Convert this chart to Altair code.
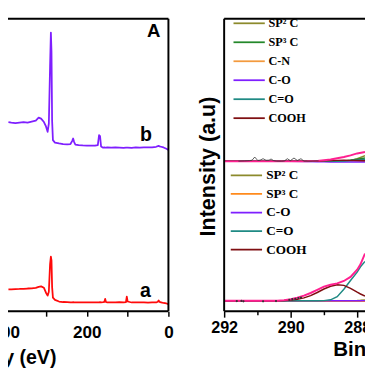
import altair as alt
import pandas as pd

# ---------------- Panel A : survey spectra (a.u. values) ----
survey_ev = [392, 385, 375, 365, 355, 345, 335, 325, 318, 312,
             305, 300, 296, 293, 290, 288, 286.5, 285, 283, 278,
             268, 258, 248, 240, 236, 233.5, 231, 228, 220, 210,
             200, 190, 180, 173, 170, 167.5, 165, 160, 157, 155,
             153, 150, 140, 130, 120, 110, 104, 102, 100, 90,
             80, 70, 60, 50, 40, 30, 26, 24, 22, 18,
             12, 5, 0]
survey_b = [193.5, 193, 192.5, 193, 193.5, 193, 194, 195, 198, 197,
            193.5, 189, 183.5, 192, 250, 285, 265, 195, 175, 172.5,
            171.7, 171, 170.7, 171, 174, 176.7, 173, 170.5, 170, 169.7,
            169.5, 169.5, 169.3, 170, 180, 179, 168.5, 167.3, 167.5, 167.4,
            167.3, 167.5, 167.3, 167.5, 167.4, 167.2, 167.4, 167.3, 167.4, 167.2,
            167.5, 167.3, 167.5, 167.7, 167.7, 168.2, 168.8, 169.2, 168.7, 168.2,
            167.5, 166.2, 165]
survey_a = [22.5, 22.5, 22.7, 22.8, 23, 23.3, 23.5, 24, 25, 25.5,
            24, 19, 16, 20, 48, 56, 52, 25, 14, 11.7,
            10, 9.5, 9.3, 9.2, 9.2, 9.3, 9.2, 9.2, 9.2, 9,
            9.2, 9, 9.2, 9.2, 9.2, 9.3, 9.2, 9.3, 9.5, 12.7,
            9.5, 9.2, 9.2, 9.2, 9.3, 9.2, 9.5, 15, 10, 9,
            9, 9, 9, 8.8, 9, 9, 9.7, 11, 9.7, 9.2,
            8.5, 8, 7.3]
label_text = ["a", "b", "A"]
label_ev = [56.3, 55.1, 35.9]
label_v = [15, 174, 280]
label_size = [20, 20, 19]

# ---------------- Panel B : C1s spectra ----
up_ev = [292, 291, 290, 289.5, 289.2, 289.0, 288.8, 288.6, 288.4, 288.2, 288.0, 287.765]
up_names = ["SP\u00b2 C", "SP\u00b3 C", "C-N", "C-O", "C=O", "COOH"]
up_colors = ["#8c8a2c", "#24882a", "#f39a3e", "#7f1fff", "#1f8a84", "#7f0f12"]
up_sp2 = [153.3, 153.3, 153.3, 153.3, 153.3, 153.3, 153.3, 153.3, 153.5, 154.3, 156.0, 159.0]
up_sp3 = [153.3, 153.3, 153.3, 153.3, 153.3, 153.3, 153.3, 153.4, 153.8, 154.5, 155.5, 156.7]
up_cn = [153.3, 153.3, 153.3, 153.3, 153.3, 153.3, 153.4, 153.5, 153.6, 153.7, 153.8, 153.9]
up_co = [153.3, 153.3, 153.3, 153.1, 152.9, 152.8, 152.7, 152.7, 152.6, 152.6, 152.6, 152.6]
up_cdo = [153.3, 153.3, 153.3, 153.3, 153.3, 153.3, 153.3, 153.4, 153.7, 154.1, 154.6, 155.2]
up_cooh = [153.3, 153.3, 153.3, 153.3, 153.5, 153.8, 154.1, 154.3, 154.4, 154.3, 154.1, 153.9]
up_fit = [153.3, 153.3, 153.3, 153.4, 153.8, 154.5, 155.2, 156.4, 157.7, 159.4, 161.4, 162.8]
up_raw_ev = [291.57, 291.39, 291.24, 291.16, 291.08, 290.99, 290.92, 290.83, 290.74, 290.65,
             290.59, 290.51, 290.42, 290.27, 290.19, 290.10, 290.01, 289.90, 289.80, 289.69,
             289.60, 289.39, 289.16]
up_raw_v = [153.5, 153.7, 154.0, 154.5, 157.7, 154.2, 154.5, 156.0, 154.4, 154.5,
            155.7, 154.0, 153.5, 153.4, 153.7, 156.0, 154.0, 156.7, 154.2, 156.0,
            153.5, 153.4, 153.8]

lo_ev = [292, 291, 290.4, 290.2, 290.0, 289.8, 289.6, 289.4, 289.2, 289.0,
         288.8, 288.6, 288.4, 288.2, 288.0, 287.9, 287.765]
lo_names = ["SP\u00b2 C", "SP\u00b3 C", "C-O", "C=O", "COOH"]
lo_colors = ["#8c8a2c", "#ff8a1c", "#7f1fff", "#1f8a84", "#7f0f12"]
lo_sp2 = [10.7, 10.7, 10.7, 10.7, 10.7, 10.7, 10.7, 10.7, 10.7, 10.7, 10.7, 10.7, 10.7, 10.8, 11.0, 11.2, 11.6]
lo_sp3 = [10.7, 10.7, 10.4, 10.2, 10.2, 10.2, 10.2, 10.2, 10.2, 10.2, 10.2, 10.2, 10.2, 10.2, 10.2, 10.2, 10.2]
lo_co = [10.7, 10.7, 10.7, 10.7, 10.7, 10.7, 10.7, 10.7, 10.7, 10.7, 10.7, 10.7, 10.7, 10.7, 10.8, 10.8, 10.9]
lo_cdo = [10.7, 10.7, 10.7, 10.7, 10.7, 10.7, 10.7, 10.7, 10.7, 10.9, 11.7, 15.0, 22.5, 31.5, 40.0, 45.5, 51.0]
lo_cooh = [10.7, 10.7, 10.8, 11.0, 11.4, 12.2, 13.7, 16.0, 19.2, 22.8, 25.6, 27.2, 26.5, 23.5, 19.5, 17.7, 15.5]
lo_fit = [10.7, 10.7, 10.8, 11.4, 12.4, 13.8, 16.0, 18.7, 22.0, 25.2, 27.2, 28.5, 31.0, 35.2, 42.5, 48.0, 59.0]
lo_raw_ev = [291.62, 291.48, 291.42, 290.83, 290.44, 290.04, 289.95, 289.86, 289.77, 289.69]
lo_raw_v = [10.4, 10.6, 10.2, 10.2, 10.4, 11.7, 12.4, 12.7, 13.5, 14.0]

PINK = "#ff2090"
RED = "#ff0a0a"
VIOLET = "#7f1fff"
SANS = "Liberation Sans"
SERIF = "Liberation Serif"
H = 301          # plot height (intensity axis top, a.u.)
W = 401          # one shared plot strip holding both panels
TOP = 299        # level of the panels' upper frame edge

# frames: panel A ends at 0 eV (its left side is outside the crop), panel B starts at 292 eV
a_frame_ev = [441, 0, 441]
a_frame_ev2 = [0, 0, 0]
a_frame_v = [TOP, 0, 0]
a_frame_v2 = [TOP, TOP, 0]
b_frame_ev = [292, 292, 292]
b_frame_ev2 = [287.294, 292, 287.294]
b_frame_v = [TOP, 0, 0]
b_frame_v2 = [TOP, TOP, 0]

# ---------------- tables ----------------
a_df = pd.DataFrame({"ev": survey_ev, "v": survey_a})
b_df = pd.DataFrame({"ev": survey_ev, "v": survey_b})
label_df = pd.DataFrame({"ev": label_ev, "v": label_v, "t": label_text, "fs": label_size})
a_frame_df = pd.DataFrame({"ev": a_frame_ev, "ev2": a_frame_ev2, "v": a_frame_v, "v2": a_frame_v2})
b_frame_df = pd.DataFrame({"ev": b_frame_ev, "ev2": b_frame_ev2, "v": b_frame_v, "v2": b_frame_v2})
up_comp_df = pd.concat([pd.DataFrame({"ev": up_ev, "v": vals, "comp": n})
                        for n, vals in zip(up_names, [up_sp2, up_sp3, up_cn, up_co, up_cdo, up_cooh])])
lo_comp_df = pd.concat([pd.DataFrame({"ev": lo_ev, "v": vals, "comp": n})
                        for n, vals in zip(lo_names, [lo_sp2, lo_sp3, lo_co, lo_cdo, lo_cooh])])
up_fit_df = pd.DataFrame({"ev": up_ev, "v": up_fit})
lo_fit_df = pd.DataFrame({"ev": lo_ev, "v": lo_fit})
up_raw_df = pd.DataFrame({"ev": up_raw_ev, "v": up_raw_v})
lo_raw_df = pd.DataFrame({"ev": lo_raw_ev, "v": lo_raw_v})

# two energy scales laid over one strip: panel A (0..441 eV) and panel B (287.3..292 eV)
xl = alt.Scale(domain=[-520, 441], reverse=True, nice=False, zero=False)
xr = alt.Scale(domain=[287.294, 299.088], reverse=True, nice=False, zero=False)
ys = alt.Scale(domain=[0, H], nice=False, zero=False)
Y = alt.Y("v:Q", scale=ys, axis=None)

# ---- panel A layers
left_a = alt.Chart(a_df).mark_line(strokeWidth=1.8, color=RED, strokeJoin="round").encode(
    x=alt.X("ev:Q", scale=xl, axis=alt.Axis(
        orient="bottom", values=[400, 300, 200, 100, 0],
        labelExpr="datum.value % 200 === 0 ? datum.label : ''",
        tickSize=5, labelFontSize=17.5, labelPadding=22, labelBaseline="alphabetic",
        labelFlush=False, title="Binding Energy (eV)", titleFontSize=20,
        titleX=69, titleY=53, titleAlign="right", titleBaseline="alphabetic")),
    y=Y,
)
left_b = alt.Chart(b_df).mark_line(strokeWidth=1.8, color=VIOLET, strokeJoin="round").encode(
    x=alt.X("ev:Q", scale=xl, axis=None), y=Y)
left_text = alt.Chart(label_df).mark_text(font=SANS, fontWeight="bold", baseline="alphabetic",
                                          align="center", color="black").encode(
    x=alt.X("ev:Q", scale=xl, axis=None), y=Y, text="t:N", size=alt.Size("fs:Q", scale=None))
left_frame = alt.Chart(a_frame_df).mark_rule(color="black", strokeWidth=2).encode(
    x=alt.X("ev:Q", scale=xl, axis=None), x2="ev2:Q", y=Y, y2="v2:Q")

# ---- panel B layers
def legend(x, y, fs, rp):
    return alt.Legend(orient="none", legendX=x, legendY=y, title=None, symbolType="M-7,0H1",
                      symbolSize=64, symbolStrokeWidth=1.8, labelFont=SERIF, labelFontWeight="bold",
                      labelFontSize=fs, labelColor="black", labelOffset=1.5, rowPadding=rp,
                      padding=0, direction="vertical")

r_up = alt.Chart(up_comp_df).mark_line(strokeWidth=1.5, clip=True).encode(
    x=alt.X("ev:Q", scale=xr, axis=alt.Axis(
        orient="bottom", values=[292, 290, 288], tickSize=6, labelFontSize=16.5, labelPadding=15.7,
        labelBaseline="alphabetic", labelFlush=False, title="Binding Energy (eV)",
        titleFontSize=21, titleX=352, titleY=45, titleAlign="left", titleBaseline="alphabetic")),
    y=alt.Y("v:Q", scale=ys, axis=alt.Axis(
        orient="left", ticks=False, labels=False, title="Intensity (a.u)", titleFontSize=22,
        titleX=231, titleY=152.5, titleAngle=270, titleAlign="center", titleBaseline="alphabetic")),
    color=alt.Color("comp:N", scale=alt.Scale(domain=up_names, range=up_colors),
                    legend=legend(272.3, 0.3, 12.5, 6.4)),
)
r_lo = alt.Chart(lo_comp_df).mark_line(strokeWidth=1.5, clip=True).encode(
    x=alt.X("ev:Q", scale=xr, axis=alt.Axis(orient="bottom", values=[291, 289], tickSize=3.5,
                                            labels=False, title=None)),
    y=Y,
    color=alt.Color("comp:N", scale=alt.Scale(domain=lo_names, range=lo_colors),
                    legend=legend(269, 155.3, 13.5, 4)),
)
r_upfit = alt.Chart(up_fit_df).mark_line(strokeWidth=2, color=PINK, clip=True).encode(
    x=alt.X("ev:Q", scale=xr, axis=None), y=Y)
r_lofit = alt.Chart(lo_fit_df).mark_line(strokeWidth=2, color=PINK, clip=True).encode(
    x=alt.X("ev:Q", scale=xr, axis=None), y=Y)
r_upraw = alt.Chart(up_raw_df).mark_line(strokeWidth=0.8, color="#333333", clip=True).encode(
    x=alt.X("ev:Q", scale=xr, axis=None), y=Y)
r_loraw = alt.Chart(lo_raw_df).mark_point(filled=True, size=5, color="#333333", opacity=1,
                                          clip=True).encode(
    x=alt.X("ev:Q", scale=xr, axis=None), y=Y)
right_frame = alt.Chart(b_frame_df).mark_rule(color="black", strokeWidth=2).encode(
    x=alt.X("ev:Q", scale=xr, axis=None), x2="ev2:Q", y=Y, y2="v2:Q")

chart = alt.layer(
    left_a, left_b, left_text, left_frame,
    r_up, r_lo, r_upfit, r_lofit, r_upraw, r_loraw, right_frame,
).resolve_scale(x="independent", color="independent").resolve_axis(
    x="independent", y="independent"
).properties(
    width=W, height=H,
    autosize=alt.AutoSizeParams(type="none"),
    padding={"left": -20, "top": 5, "right": 385 - W, "bottom": 360 - H},
).configure_view(stroke=None).configure_axis(
    grid=False, domain=False, tickColor="black", tickWidth=1.5,
    labelColor="black", labelFont=SANS, labelFontWeight="bold",
    titleColor="black", titleFont=SANS, titleFontWeight="bold",
)

chart.save("out.html", embed_options={"renderer": "svg", "actions": False})
